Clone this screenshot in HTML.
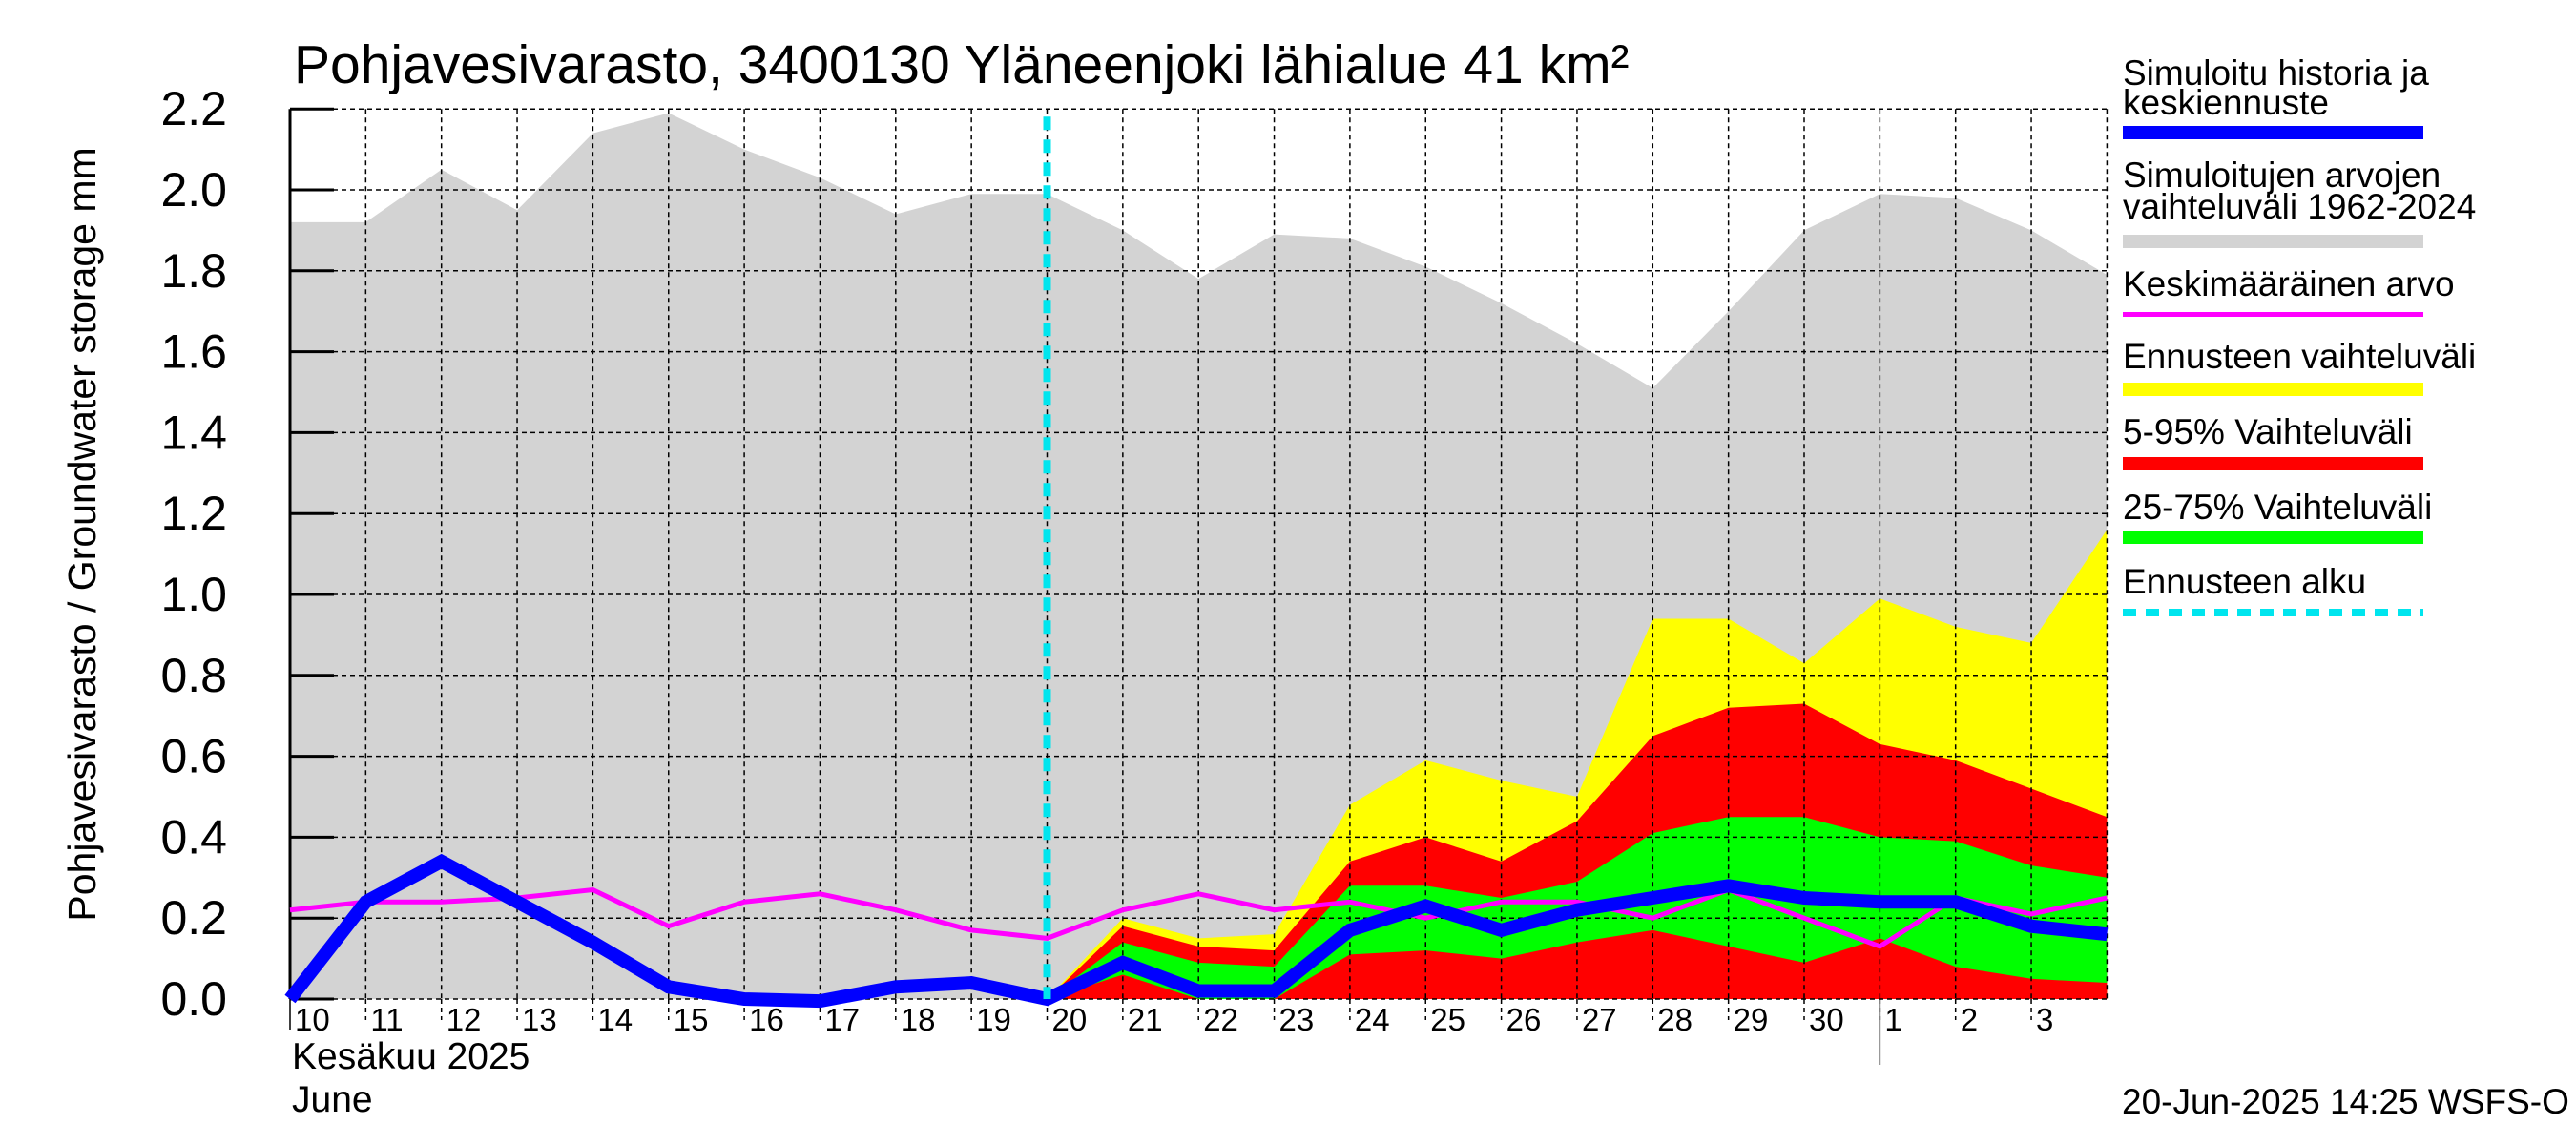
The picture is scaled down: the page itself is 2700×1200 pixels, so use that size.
<!DOCTYPE html>
<html><head><meta charset="utf-8"><style>
body{margin:0;background:#fff}
svg{display:block;font-family:"Liberation Sans",Arial,sans-serif}
</style></head><body>
<svg id="c" width="2700" height="1200" viewBox="0 0 2700 1200" xmlns="http://www.w3.org/2000/svg">
<g id="plot"></g>
<text x="308" y="87" font-size="57">Pohjavesivarasto, 3400130 Yläneenjoki lähialue 41 km²</text>
<text transform="translate(100,560) rotate(-90)" text-anchor="middle" font-size="41">Pohjavesivarasto / Groundwater storage   mm</text>
<text x="306" y="1120" font-size="39">Kesäkuu   2025</text>
<text x="306" y="1165" font-size="39">June</text>
<text x="2224" y="1167" font-size="37">20-Jun-2025 14:25 WSFS-O</text>
<g font-size="37">
<text x="2225" y="89">Simuloitu historia ja</text>
<text x="2225" y="120">keskiennuste</text>
<rect x="2225" y="132" width="315" height="14" fill="#0000ff"/>
<text x="2225" y="196">Simuloitujen arvojen</text>
<text x="2225" y="229">vaihteluväli 1962-2024</text>
<rect x="2225" y="246" width="315" height="14" fill="#d3d3d3"/>
<text x="2225" y="310">Keskimääräinen arvo</text>
<rect x="2225" y="327" width="315" height="5" fill="#ff00ff"/>
<text x="2225" y="386">Ennusteen vaihteluväli</text>
<rect x="2225" y="401" width="315" height="14" fill="#ffff00"/>
<text x="2225" y="465">5-95% Vaihteluväli</text>
<rect x="2225" y="479" width="315" height="14" fill="#ff0000"/>
<text x="2225" y="544">25-75% Vaihteluväli</text>
<rect x="2225" y="556" width="315" height="14" fill="#00ff00"/>
<text x="2225" y="622">Ennusteen alku</text>
<line x1="2225" y1="642" x2="2540" y2="642" stroke="#00e5ee" stroke-width="8" stroke-dasharray="14 10"/>
</g>
</svg>
<script>
const dayLabels=["10","11","12","13","14","15","16","17","18","19","20","21","22","23","24","25","26","27","28","29","30","1","2","3"];
const yTicks=[0,0.2,0.4,0.6,0.8,1.0,1.2,1.4,1.6,1.8,2.0,2.2];
const histMax=[1.92,1.92,2.05,1.95,2.14,2.19,2.10,2.03,1.94,1.99,1.99,1.90,1.78,1.89,1.88,1.81,1.72,1.62,1.51,1.70,1.90,1.99,1.98,1.90,1.79];
const histMin=[0,0,0,0,0,0,0,0,0,0,0,0,0,0,0,0,0,0,0,0,0,0,0,0,0];
const blueVals=[0.0,0.24,0.34,0.24,0.14,0.03,0.0,-0.005,0.03,0.04,0.0,0.09,0.02,0.02,0.17,0.23,0.17,0.22,0.25,0.28,0.25,0.24,0.24,0.18,0.16];
const meanVals=[0.22,0.24,0.24,0.25,0.27,0.18,0.24,0.26,0.22,0.17,0.15,0.22,0.26,0.22,0.24,0.20,0.24,0.24,0.20,0.27,0.20,0.13,0.25,0.21,0.25];
const fcDays=[10,11,12,13,14,15,16,17,18,19,20,21,22,23,24];
const yelHi=[0,0.20,0.15,0.16,0.48,0.59,0.54,0.50,0.94,0.94,0.83,0.99,0.92,0.88,1.16];
const yelLo=[0,0,0,0,0,0,0,0,0,0,0,0,0,0,0];
const redHi=[0,0.18,0.13,0.12,0.34,0.40,0.34,0.44,0.65,0.72,0.73,0.63,0.59,0.52,0.45];
const redLo=[0,0,0,0,0,0,0,0,0,0,0,0,0,0,0];
const grnHi=[0,0.14,0.09,0.08,0.28,0.28,0.25,0.29,0.41,0.45,0.45,0.40,0.39,0.33,0.30];
const grnLo=[0,0.06,0,0,0.11,0.12,0.10,0.14,0.17,0.13,0.09,0.15,0.08,0.05,0.04];
const forecastStart=10, monthBreak=21;

const X0=304, DX=79.35, Y0=1047, KY=424;
const xs=d=>X0+d*DX, ys=v=>Y0-v*KY;
const NS="http://www.w3.org/2000/svg", g=document.getElementById('plot');
function mk(t,a){const e=document.createElementNS(NS,t);for(const k in a)e.setAttribute(k,a[k]);g.appendChild(e);return e;}
function band(days,hi,lo,fill,name){
  let p=days.map((d,i)=>xs(d)+','+ys(hi[i]));
  for(let i=days.length-1;i>=0;i--)p.push(xs(days[i])+','+ys(lo[i]));
  const e=mk('polygon',{points:p.join(' '),fill:fill});
  
  
}
const allDays=histMax.map((_,i)=>i);
band(allDays,histMax,histMin,'#d3d3d3','historical-range-band');
band(fcDays,yelHi,yelLo,'#ffff00','forecast-range-band');
band(fcDays,redHi,redLo,'#ff0000','band-5-95');
band(fcDays,grnHi,grnLo,'#00ff00','band-25-75');
// grid
yTicks.forEach(v=>{
  const l=mk('line',{x1:X0,x2:xs(24),y1:ys(v),y2:ys(v),stroke:'#000','stroke-width':1.5,'stroke-dasharray':'5 4'});
  
  
  const t=mk('line',{x1:X0,x2:X0+46,y1:ys(v),y2:ys(v),stroke:'#000','stroke-width':3});
  
  
  const tx=mk('text',{x:238,y:ys(v)+17,'text-anchor':'end','font-size':50});
  tx.textContent=v.toFixed(1);
  
  
});
for(let d=1;d<=24;d++){
  const l=mk('line',{x1:xs(d),x2:xs(d),y1:ys(2.2),y2:Y0,stroke:'#000','stroke-width':1.5,'stroke-dasharray':'5 4'});
  
  
}
dayLabels.forEach((s,d)=>{
  const t=mk('line',{x1:xs(d),x2:xs(d),y1:Y0,y2:Y0+(d===0?32:22),stroke:'#000','stroke-width':1.5,'stroke-dasharray':d===0?'':'5 4'});
  
  
  const tx=mk('text',{x:xs(d)+5,y:1080,'font-size':33});
  tx.textContent=s;
  
  
});
const mb=mk('line',{x1:xs(monthBreak),x2:xs(monthBreak),y1:Y0,y2:1116,stroke:'#000','stroke-width':1.5});


const ax=mk('line',{x1:X0,x2:X0,y1:ys(2.2),y2:Y0,stroke:'#000','stroke-width':3});


function line(days,vals,col,w,name){
  const e=mk('polyline',{points:days.map((d,i)=>xs(d)+','+ys(vals[i])).join(' '),fill:'none',stroke:col,'stroke-width':w,'stroke-linejoin':'miter'});
  
  
}
line(allDays,meanVals,'#ff00ff',5,'mean-line');
line(allDays,blueVals,'#0000ff',14,'simulated-line');
const fs=mk('line',{x1:xs(forecastStart),x2:xs(forecastStart),y1:ys(2.2)+8,y2:Y0,stroke:'#00e5ee','stroke-width':8,'stroke-dasharray':'14 10'});


</script>
</body></html>
